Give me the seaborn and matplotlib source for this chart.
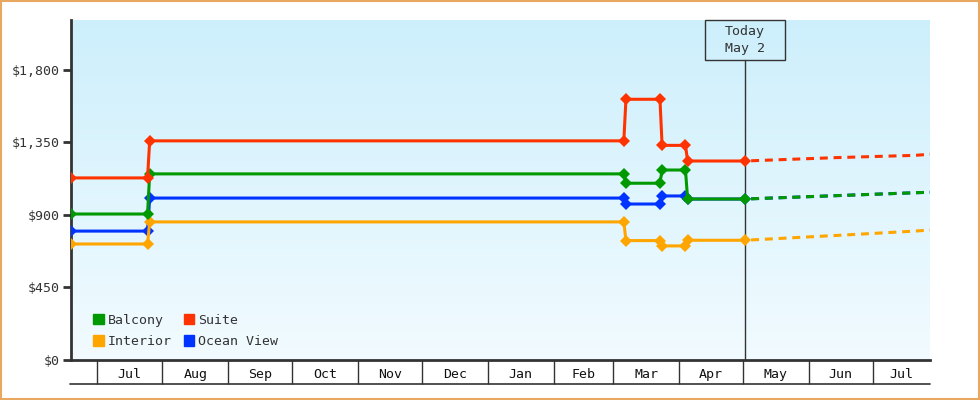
import pandas as pd
import numpy as np
import matplotlib.pyplot as plt
import matplotlib.dates as mdates
from matplotlib.patches import Patch, Rectangle
from matplotlib.lines import Line2D
from matplotlib.colors import LinearSegmentedColormap
import matplotlib.transforms as mtrans
import seaborn as sns

sns.set_style('white')
plt.rcParams['font.family'] = ['DejaVu Sans Mono', 'DejaVu Sans']

# price history up to today
hist_dates = ['2024-06-19', '2024-07-25', '2024-07-26', '2025-03-06', '2025-03-07',
              '2025-03-23', '2025-03-24', '2025-04-04', '2025-04-05', '2025-05-02']
suite = [1130, 1130, 1360, 1360, 1618, 1618, 1332, 1332, 1235, 1235]
balcony = [906, 906, 1155, 1155, 1097, 1097, 1179, 1179, 999, 999]
ocean_view = [800, 800, 1005, 1005, 968, 968, 1018, 1018, 999, 999]
interior = [720, 720, 857, 857, 741, 741, 708, 708, 743, 743]

# forecast after today
fc_dates = ['2025-05-02', '2025-06-14', '2025-07-21', '2025-07-28']
suite_fc = [1235, 1256, 1270, 1277]
balcony_fc = [999, 1020, 1038, 1041]
ocean_view_fc = [999, 1020, 1038, 1041]
interior_fc = [743, 773, 800, 807]

cabins = ['Ocean View', 'Interior', 'Balcony', 'Suite']  # draw order
colors = {'Balcony': '#009900', 'Suite': '#ff3300', 'Interior': '#ffa500', 'Ocean View': '#0033ff'}

month_starts = pd.date_range('2024-07-01', '2025-07-01', freq='MS')
month_labels = ['Jul', 'Aug', 'Sep', 'Oct', 'Nov', 'Dec', 'Jan', 'Feb', 'Mar', 'Apr', 'May', 'Jun', 'Jul']
yticks = [0, 450, 900, 1350, 1800]
today = pd.Timestamp('2025-05-02')
x0, x1 = pd.Timestamp('2024-06-19'), pd.Timestamp('2025-07-28')

hist = pd.DataFrame({
    'date': pd.to_datetime(hist_dates * 4),
    'price': ocean_view + interior + balcony + suite,
    'cabin': np.repeat(cabins, len(hist_dates)),
})
fc = pd.DataFrame({
    'date': pd.to_datetime(fc_dates * 4),
    'price': ocean_view_fc + interior_fc + balcony_fc + suite_fc,
    'cabin': np.repeat(cabins, len(fc_dates)),
})

fig = plt.figure(figsize=(9.8, 4), dpi=100)
ax = fig.add_axes([71 / 980, 40 / 400, 859 / 980, 340 / 400])

# gradient background
grad = np.linspace(0, 1, 256).reshape(-1, 1)
bg = LinearSegmentedColormap.from_list('bg', ['#cdeffc', '#f2fbff'])
ax.imshow(grad, aspect='auto', cmap=bg, extent=[0, 1, 0, 1], transform=ax.transAxes, zorder=0)

for c in cabins:
    d = fc[fc.cabin == c]
    sns.lineplot(data=d, x='date', y='price', color=colors[c], lw=2.2, ax=ax,
                 dashes=False, linestyle=(2.5, (2.6, 1.9)), estimator=None, sort=False, zorder=3)
for c in cabins:
    d = hist[hist.cabin == c]
    sns.lineplot(data=d, x='date', y='price', color=colors[c], lw=2.2, ax=ax,
                 marker='D', markersize=6, markeredgewidth=0, estimator=None, sort=False, zorder=4)

ax.set_xlim(x0, x1)
ax.set_ylim(0, 2110)
ax.set_xlabel('')
ax.set_ylabel('')

ax.set_yticks(yticks)
ax.set_yticklabels(['$' + format(v, ',') for v in yticks])
ax.tick_params(axis='y', direction='out', length=6, width=2, color='#333333',
               labelsize=9.5, labelcolor='#333333', pad=2, left=True)

# month bands below the axis
edges = [max(x0, m) for m in month_starts] + [x1]
centers = [edges[i] + (edges[i + 1] - edges[i]) / 2 for i in range(len(month_labels))]
ax.set_xticks(centers)
ax.set_xticklabels(month_labels)
ax.set_xticks(month_starts, minor=True)
ax.tick_params(axis='x', which='major', length=0, labelsize=9.5, labelcolor='#111111', pad=6)
ax.tick_params(axis='x', which='minor', direction='out', length=17.5, width=1, color='#333333', bottom=True)

for s in ['top', 'right']:
    ax.spines[s].set_visible(False)
for s in ['left', 'bottom']:
    ax.spines[s].set_color('#333333')
    ax.spines[s].set_linewidth(2)
fig.add_artist(Line2D([70 / 980, 930 / 980], [16 / 400, 16 / 400], color='#333333', lw=1.2))

# today marker
tr = mtrans.blended_transform_factory(ax.transData, ax.transAxes)
ax.plot([today, today], [0, 1 - 40 / 340], transform=tr, color='#333333', lw=1, zorder=2)
half = pd.Timedelta(days=18.8)
ax.add_patch(Rectangle((mdates.date2num(today - half), 1 - 40 / 340),
                       mdates.date2num(today + half) - mdates.date2num(today - half),
                       40 / 340, transform=tr, fill=False, edgecolor='#333333', lw=1, zorder=5, clip_on=False))
ax.text(today, 1 - 20 / 340, 'Today\nMay 2', transform=tr, ha='center', va='center',
        fontsize=9.5, color='#333333', linespacing=1.35, zorder=6)

handles = [Patch(color=colors[c]) for c in ['Balcony', 'Interior', 'Suite', 'Ocean View']]
ax.legend(handles, ['Balcony', 'Interior', 'Suite', 'Ocean View'], ncol=2, frameon=False,
          loc='lower left', bbox_to_anchor=(0.012, 0.0), fontsize=9.5, handlelength=0.8,
          handleheight=0.8, handletextpad=0.3, columnspacing=0.9, labelspacing=0.65, labelcolor='#333333')

fig.add_artist(Rectangle((0.001, 0.002), 0.998, 0.996, transform=fig.transFigure, fill=False,
                         edgecolor='#e8a860', lw=1.5))

fig.savefig('out.png', dpi=100, facecolor='white')
